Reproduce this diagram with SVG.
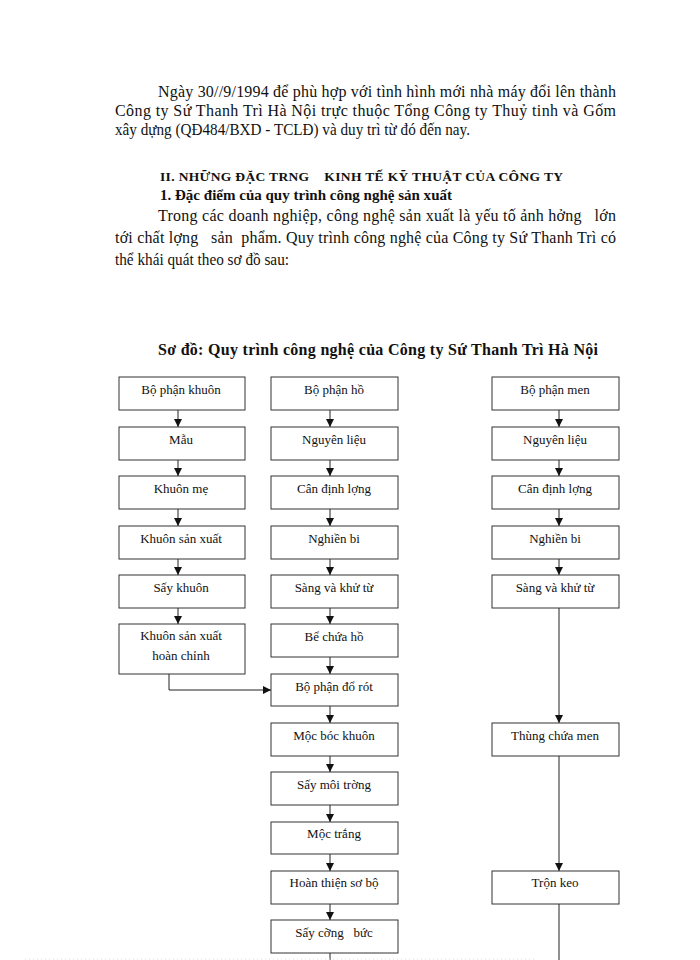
<svg xmlns="http://www.w3.org/2000/svg" width="700" height="960" viewBox="0 0 700 960">
<defs>
<style>
.body{font-family:"Liberation Serif","Times New Roman",serif;font-size:16px;fill:#111}
.hb{font-family:"Liberation Serif","Times New Roman",serif;font-weight:bold;fill:#111}
.box{fill:#fff;stroke:#333;stroke-width:1}
.lbl{font-family:"Liberation Serif","Times New Roman",serif;font-size:13px;fill:#111;text-anchor:middle}
.ln{fill:none;stroke:#222;stroke-width:1}
</style>
<marker id="ah" viewBox="0 0 8 8" refX="8" refY="4" markerWidth="8" markerHeight="8" markerUnits="userSpaceOnUse" orient="auto">
<path d="M0,0 L8,4 L0,8 Z" fill="#111"/>
</marker>
</defs>
<rect width="700" height="960" fill="#fff"/>

<g id="intro">
<text class="body" x="158" y="97" textLength="458" lengthAdjust="spacing">Ngày 30//9/1994 để phù hợp với tình hình mới nhà máy đổi lên thành</text>
<text class="body" x="115" y="116" textLength="501" lengthAdjust="spacing">Công ty Sứ Thanh Trì Hà Nội trực thuộc Tổng Công ty Thuỷ tinh và Gốm</text>
<text class="body" x="115" y="135" font-size="15.5" textLength="355" lengthAdjust="spacingAndGlyphs">xây dựng (QĐ484/BXD - TCLĐ) và duy trì từ đó đến nay.</text>
<text class="hb" x="160" y="181" font-size="13.5" textLength="403" lengthAdjust="spacing" xml:space="preserve">II. NHỮNG ĐẶC TRNG    KINH TẾ KỸ THUẬT CỦA CÔNG TY</text>
<text class="hb" x="160" y="200" font-size="15.5" textLength="292" lengthAdjust="spacingAndGlyphs">1. Đặc điểm của quy trình công nghệ sản xuất</text>
<text class="body" x="158" y="221" textLength="458" lengthAdjust="spacing" xml:space="preserve">Trong các doanh nghiệp, công nghệ sản xuất là yếu tố ảnh hởng   lớn</text>
<text class="body" x="115" y="243" textLength="501" lengthAdjust="spacing" xml:space="preserve">tới chất lợng   sản  phẩm. Quy trình công nghệ của Công ty Sứ Thanh Trì có</text>
<text class="body" x="115" y="265" font-size="15.5" textLength="174" lengthAdjust="spacingAndGlyphs">thể khái quát theo sơ đồ sau:</text>
<text class="hb" x="158" y="355" font-size="16" textLength="440" lengthAdjust="spacing">Sơ đồ: Quy trình công nghệ của Công ty Sứ Thanh Trì Hà Nội</text>
</g>

<g id="connectors">
<line class="ln" x1="178" y1="410" x2="178" y2="427" marker-end="url(#ah)"/>
<line class="ln" x1="178" y1="460" x2="178" y2="476" marker-end="url(#ah)"/>
<line class="ln" x1="178" y1="509" x2="178" y2="526" marker-end="url(#ah)"/>
<line class="ln" x1="178" y1="559" x2="178" y2="575" marker-end="url(#ah)"/>
<line class="ln" x1="178" y1="608" x2="178" y2="624" marker-end="url(#ah)"/>
<polyline class="ln" points="169,674 169,690 271,690" marker-end="url(#ah)"/>

<line class="ln" x1="330" y1="410" x2="330" y2="427" marker-end="url(#ah)"/>
<line class="ln" x1="330" y1="460" x2="330" y2="476" marker-end="url(#ah)"/>
<line class="ln" x1="330" y1="509" x2="330" y2="526" marker-end="url(#ah)"/>
<line class="ln" x1="330" y1="559" x2="330" y2="575" marker-end="url(#ah)"/>
<line class="ln" x1="330" y1="608" x2="330" y2="624" marker-end="url(#ah)"/>
<line class="ln" x1="330" y1="657" x2="330" y2="674" marker-end="url(#ah)"/>
<line class="ln" x1="330" y1="706" x2="330" y2="723" marker-end="url(#ah)"/>
<line class="ln" x1="330" y1="756" x2="330" y2="772" marker-end="url(#ah)"/>
<line class="ln" x1="330" y1="805" x2="330" y2="822" marker-end="url(#ah)"/>
<line class="ln" x1="330" y1="854" x2="330" y2="871" marker-end="url(#ah)"/>
<line class="ln" x1="330" y1="904" x2="330" y2="920" marker-end="url(#ah)"/>
<line class="ln" x1="330" y1="953" x2="330" y2="960"/>

<line class="ln" x1="559" y1="410" x2="559" y2="427" marker-end="url(#ah)"/>
<line class="ln" x1="559" y1="460" x2="559" y2="476" marker-end="url(#ah)"/>
<line class="ln" x1="559" y1="509" x2="559" y2="526" marker-end="url(#ah)"/>
<line class="ln" x1="559" y1="559" x2="559" y2="575" marker-end="url(#ah)"/>
<line class="ln" x1="559" y1="608" x2="559" y2="723" marker-end="url(#ah)"/>
<line class="ln" x1="559" y1="756" x2="559" y2="871" marker-end="url(#ah)"/>
<line class="ln" x1="559" y1="904" x2="559" y2="960"/>
</g>

<g id="n-khuon"><rect class="box" x="119" y="377" width="126" height="33"/><text class="lbl" x="181" y="394">Bộ phận khuôn</text></g>
<g id="n-mau"><rect class="box" x="119" y="427" width="126" height="33"/><text class="lbl" x="181" y="444">Mẫu</text></g>
<g id="n-khuonme"><rect class="box" x="119" y="476" width="126" height="33"/><text class="lbl" x="181" y="493">Khuôn mẹ</text></g>
<g id="n-khuonsx"><rect class="box" x="119" y="526" width="126" height="33"/><text class="lbl" x="181" y="543">Khuôn sản xuất</text></g>
<g id="n-saykhuon"><rect class="box" x="119" y="575" width="126" height="33"/><text class="lbl" x="181" y="592">Sấy khuôn</text></g>
<g id="n-khuonhc"><rect class="box" x="119" y="624" width="126" height="50"/><text class="lbl" x="181" y="640">Khuôn sản xuất</text><text class="lbl" x="181" y="660">hoàn chỉnh</text></g>

<g id="n-ho"><rect class="box" x="271" y="377" width="127" height="33"/><text class="lbl" x="334" y="394">Bộ phận hồ</text></g>
<g id="n-nl1"><rect class="box" x="271" y="427" width="127" height="33"/><text class="lbl" x="334" y="444">Nguyên liệu</text></g>
<g id="n-can1"><rect class="box" x="271" y="476" width="127" height="33"/><text class="lbl" x="334" y="493">Cân định lợng</text></g>
<g id="n-nghien1"><rect class="box" x="271" y="526" width="127" height="33"/><text class="lbl" x="334" y="543">Nghiền bi</text></g>
<g id="n-sang1"><rect class="box" x="271" y="575" width="127" height="33"/><text class="lbl" x="334" y="592">Sàng và khử từ</text></g>
<g id="n-bechua"><rect class="box" x="271" y="624" width="127" height="33"/><text class="lbl" x="334" y="641">Bể chứa hồ</text></g>
<g id="n-dorot"><rect class="box" x="271" y="674" width="127" height="32"/><text class="lbl" x="334" y="691">Bộ phận đổ rót</text></g>
<g id="n-mocboc"><rect class="box" x="271" y="723" width="127" height="33"/><text class="lbl" x="334" y="740">Mộc bóc khuôn</text></g>
<g id="n-saymoi"><rect class="box" x="271" y="772" width="127" height="33"/><text class="lbl" x="334" y="789">Sấy môi trờng</text></g>
<g id="n-moctrang"><rect class="box" x="271" y="822" width="127" height="32"/><text class="lbl" x="334" y="838">Mộc trắng</text></g>
<g id="n-hoanthien"><rect class="box" x="271" y="871" width="127" height="33"/><text class="lbl" x="334" y="887">Hoàn thiện sơ bộ</text></g>
<g id="n-saycuong"><rect class="box" x="271" y="920" width="127" height="33"/><text class="lbl" x="334" y="937" xml:space="preserve">Sấy cỡng   bức</text></g>

<g id="n-men"><rect class="box" x="492" y="377" width="127" height="33"/><text class="lbl" x="555" y="394">Bộ phận men</text></g>
<g id="n-nl2"><rect class="box" x="492" y="427" width="127" height="33"/><text class="lbl" x="555" y="444">Nguyên liệu</text></g>
<g id="n-can2"><rect class="box" x="492" y="476" width="127" height="33"/><text class="lbl" x="555" y="493">Cân định lợng</text></g>
<g id="n-nghien2"><rect class="box" x="492" y="526" width="127" height="33"/><text class="lbl" x="555" y="543">Nghiền bi</text></g>
<g id="n-sang2"><rect class="box" x="492" y="575" width="127" height="33"/><text class="lbl" x="555" y="592">Sàng và khử từ</text></g>
<g id="n-thung"><rect class="box" x="492" y="723" width="127" height="33"/><text class="lbl" x="555" y="740">Thùng chứa men</text></g>
<g id="n-tronkeo"><rect class="box" x="492" y="871" width="127" height="33"/><text class="lbl" x="555" y="887">Trộn keo</text></g>

<line x1="25" y1="959" x2="535" y2="959" stroke="#cfe8cf" stroke-width="1" stroke-dasharray="1,3"/>
</svg>
